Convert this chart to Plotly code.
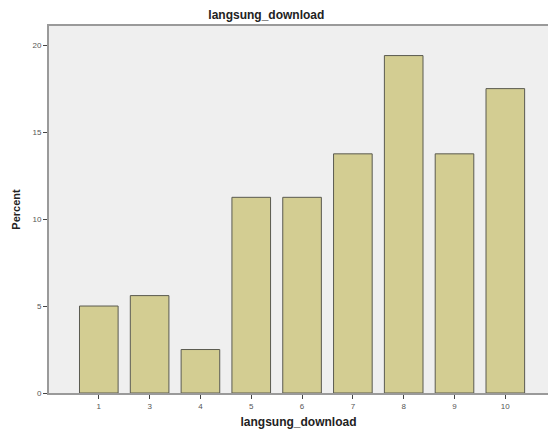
import plotly.graph_objects as go

categories = ["1", "3", "4", "5", "6", "7", "8", "9", "10"]
percent = [5.0, 5.6, 2.5, 11.25, 11.25, 13.75, 19.4, 13.75, 17.5]
y_ticks = [0, 5, 10, 15, 20]

fig = go.Figure(
    go.Bar(
        x=categories,
        y=percent,
        marker=dict(color="#D3CD92", line=dict(color="#5A5A50", width=1)),
        width=0.76,
    )
)

fig.update_layout(
    width=548,
    height=437,
    margin=dict(l=49, r=0, t=26, b=44),
    paper_bgcolor="white",
    plot_bgcolor="#EFEFEF",
    font=dict(family="Liberation Sans, Arial, sans-serif", color="#333"),
    title=dict(
        text="<b>langsung_download</b>",
        x=0.486,
        xanchor="center",
        y=0.965,
        yanchor="middle",
        font=dict(size=12, color="#222"),
    ),
    showlegend=False,
)

fig.update_xaxes(
    type="category",
    range=[-0.98, 8.84],
    title=dict(text="<b>langsung_download</b>", font=dict(size=12, color="#222"), standoff=8),
    tickfont=dict(size=8, color="#555"),
    ticks="outside",
    ticklen=4,
    tickcolor="#444",
    showline=True,
    mirror=True,
    linecolor="#9A9A9A",
    linewidth=2,
    showgrid=False,
    zeroline=False,
)

fig.update_yaxes(
    range=[0, 21.1],
    tickvals=y_ticks,
    title=dict(text="<b>Percent</b>", font=dict(size=11, color="#222"), standoff=10),
    tickfont=dict(size=8, color="#555"),
    ticks="outside",
    ticklen=4,
    tickcolor="#444",
    showline=True,
    linecolor="#9A9A9A",
    linewidth=2,
    showgrid=False,
    zeroline=False,
)

fig.write_html(
    "out.html",
    config={"displayModeBar": False},
    post_script="document.body.style.margin='0';document.body.style.padding='0';",
)
